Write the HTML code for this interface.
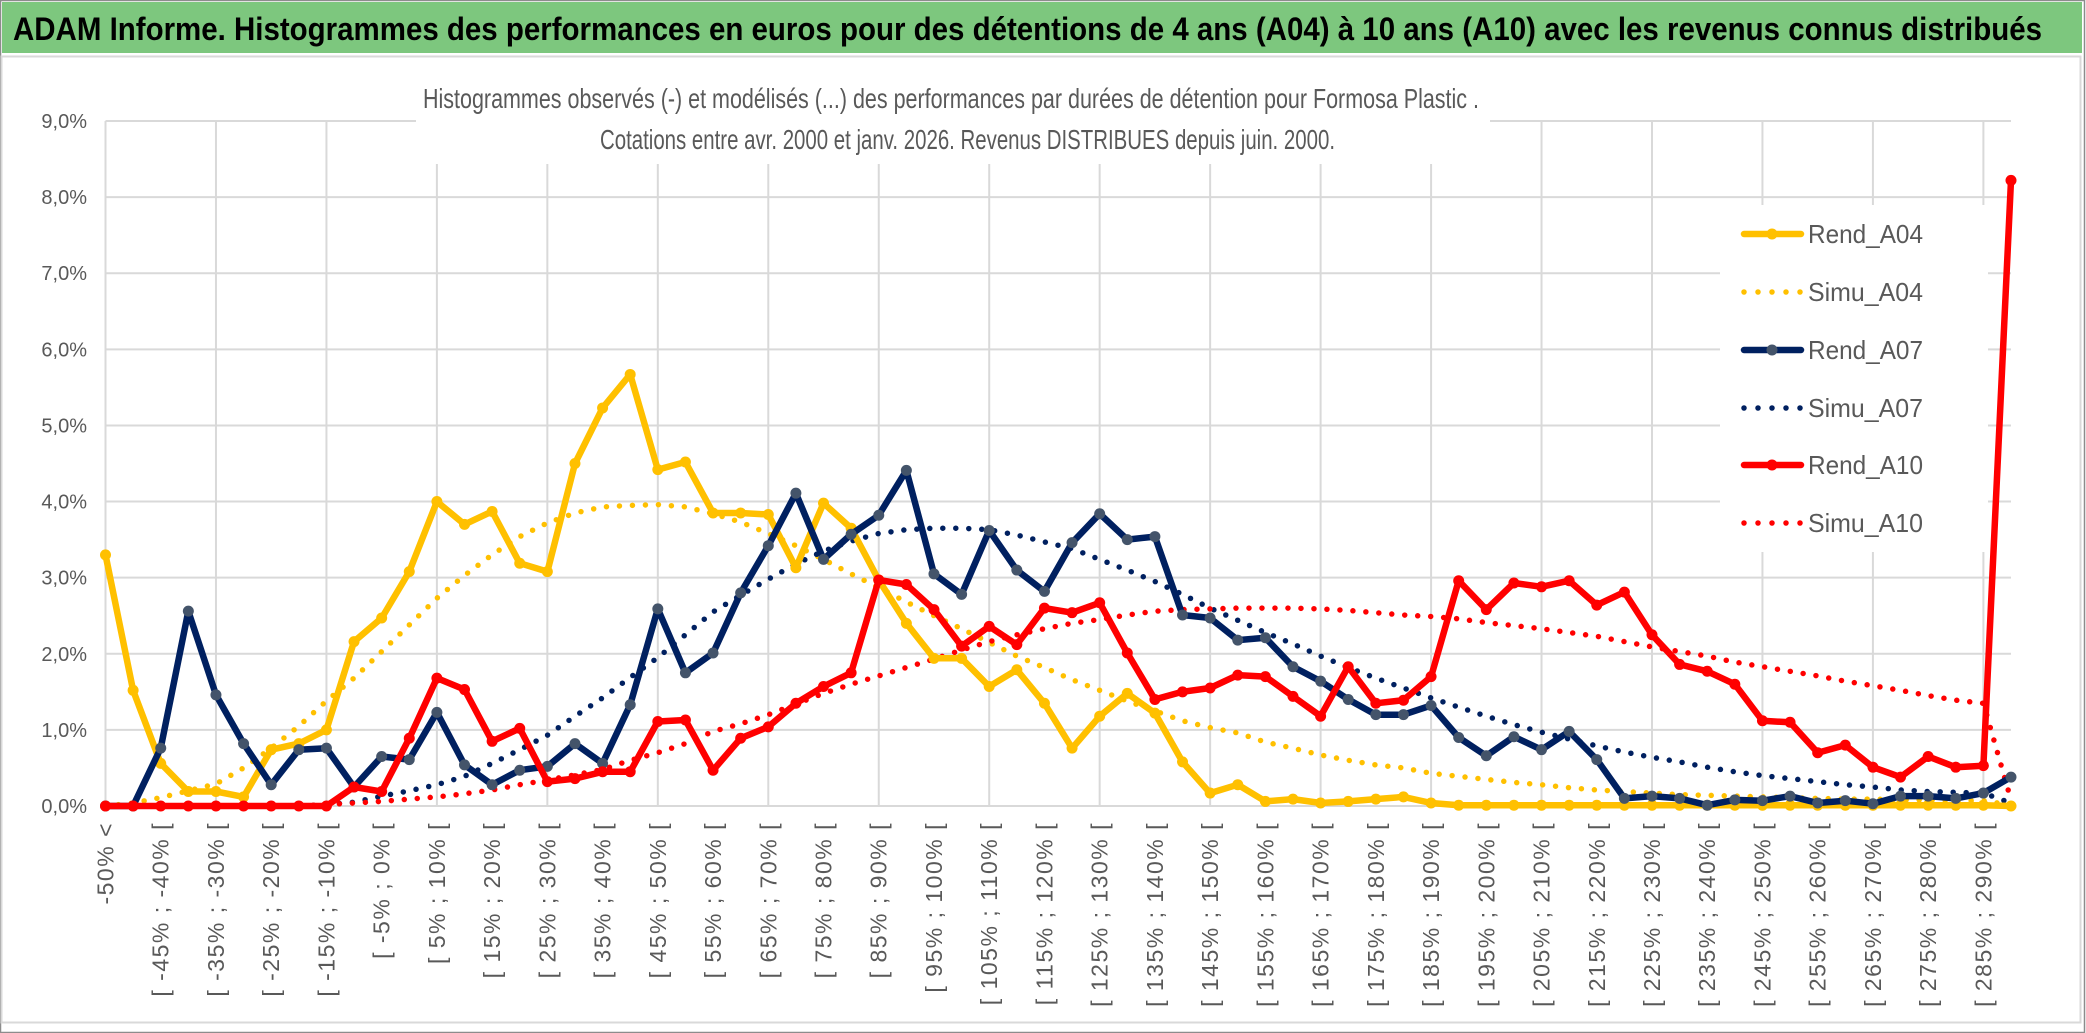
<!DOCTYPE html>
<html><head><meta charset="utf-8"><style>
html,body{margin:0;padding:0;background:#fff;}
svg{display:block;font-family:"Liberation Sans",sans-serif;}
</style></head><body>
<svg id="chart" width="2086" height="1033" viewBox="0 0 2086 1033" xmlns="http://www.w3.org/2000/svg">
<rect x="0" y="0" width="2086" height="1033" fill="#fff"/>
<rect x="0.5" y="0.5" width="2084" height="1032" fill="none" stroke="#8c8c8c" stroke-width="1.5"/>
<rect x="2" y="2" width="2080" height="51" fill="#7dc77e"/>
<text x="13" y="40" font-size="32" font-weight="bold" fill="#000" textLength="2029" lengthAdjust="spacingAndGlyphs">ADAM Informe. Histogrammes des performances en euros pour des détentions de 4 ans (A04) à 10 ans (A10) avec les revenus connus distribués</text>
<rect x="1.5" y="56.5" width="2079" height="966" fill="none" stroke="#d9d9d9" stroke-width="2"/>
<g id="grid"></g>
<rect x="416" y="60" width="1074" height="104" fill="#fff"/>
<text x="423" y="108" font-size="28" fill="#595959" textLength="1056" lengthAdjust="spacingAndGlyphs">Histogrammes observés (-) et modélisés (...) des performances par durées de détention pour Formosa Plastic .</text>
<text x="600" y="149" font-size="28" fill="#595959" textLength="735" lengthAdjust="spacingAndGlyphs">Cotations entre avr. 2000 et janv. 2026. Revenus DISTRIBUES depuis juin. 2000.</text>
<g id="yaxis"></g>
<g id="xaxis"></g>
<g id="series"></g>
<rect x="1720" y="205" width="268" height="347" fill="#fff"/>
<g id="legend"></g>
</svg>
<script>
const categories = (function(){const c=["-50% <"];for(let k=1;k<=68;k++){c.push("[ "+(-55+5*k)+"% ; "+(-50+5*k)+"% [");}c.push("> 290%");return c;})();
const yTicks = [0,1,2,3,4,5,6,7,8,9];
const rendA04 = [3.30,1.52,0.56,0.19,0.19,0.12,0.74,0.82,1.00,2.16,
2.47,3.08,4.00,3.70,3.87,3.19,3.08,4.50,5.23,5.67,
4.42,4.52,3.85,3.85,3.83,3.13,3.98,3.65,2.97,2.40,
1.94,1.94,1.57,1.79,1.35,0.76,1.18,1.48,1.22,0.58,
0.17,0.28,0.06,0.09,0.04,0.06,0.09,0.12,0.04,0.01,
0.01,0.01,0.01,0.01,0.01,0.01,0.01,0.01,0.01,0.01,
0.01,0.01,0.01,0.01,0.01,0.01,0.01,0.01,0.01,0.00];
const simuA04 = [0,0.04,0.11,0.20,0.29,0.50,0.76,1.05,1.38,1.68,
2.03,2.38,2.73,3.03,3.30,3.54,3.72,3.85,3.93,3.95,
3.96,3.93,3.84,3.73,3.58,3.42,3.24,3.05,2.87,2.68,
2.50,2.33,2.15,1.97,1.82,1.66,1.52,1.38,1.25,1.12,
1.03,0.96,0.84,0.76,0.67,0.60,0.54,0.50,0.43,0.39,
0.35,0.31,0.28,0.24,0.21,0.19,0.17,0.15,0.14,0.13,
0.12,0.11,0.10,0.09,0.09,0.08,0.08,0.07,0.07,0.01];
const rendA07 = [0,0,0.76,2.56,1.46,0.82,0.28,0.74,0.76,0.25,
0.65,0.61,1.23,0.54,0.28,0.47,0.52,0.82,0.56,1.33,
2.59,1.75,2.01,2.80,3.42,4.11,3.24,3.57,3.82,4.41,
3.05,2.78,3.62,3.10,2.82,3.46,3.84,3.50,3.54,2.51,
2.47,2.18,2.21,1.83,1.64,1.40,1.20,1.20,1.32,0.90,
0.66,0.91,0.74,0.98,0.61,0.10,0.13,0.10,0.01,0.08,
0.07,0.13,0.04,0.07,0.03,0.13,0.13,0.10,0.17,0.38];
const simuA07 = [0,0,0,0,0,0,0,0,0.02,0.05,
0.13,0.20,0.28,0.39,0.56,0.74,0.93,1.18,1.42,1.69,
1.95,2.25,2.55,2.77,2.98,3.18,3.35,3.48,3.58,3.63,
3.65,3.65,3.63,3.56,3.47,3.38,3.24,3.10,2.95,2.78,
2.60,2.44,2.28,2.13,1.97,1.82,1.68,1.55,1.42,1.30,
1.18,1.07,0.97,0.88,0.79,0.71,0.64,0.58,0.51,0.45,
0.40,0.36,0.32,0.28,0.25,0.21,0.19,0.18,0.17,0.04];
const rendA10 = [0,0,0,0,0,0,0,0,0,0.25,
0.19,0.89,1.68,1.53,0.85,1.02,0.32,0.36,0.45,0.45,
1.11,1.13,0.47,0.89,1.04,1.35,1.57,1.75,2.97,2.91,
2.58,2.10,2.36,2.12,2.60,2.54,2.67,2.01,1.40,1.50,
1.55,1.72,1.70,1.44,1.18,1.83,1.35,1.39,1.70,2.96,
2.58,2.93,2.88,2.96,2.64,2.81,2.25,1.86,1.77,1.60,
1.12,1.10,0.70,0.80,0.51,0.38,0.65,0.51,0.53,8.22];
const simuA10 = [0,0,0,0,0,0,0,0,0.02,0.04,
0.06,0.09,0.12,0.16,0.21,0.28,0.34,0.41,0.48,0.60,
0.70,0.82,0.98,1.08,1.20,1.34,1.48,1.60,1.71,1.82,
1.93,2.05,2.16,2.25,2.33,2.40,2.45,2.51,2.56,2.58,
2.59,2.60,2.60,2.60,2.59,2.57,2.54,2.51,2.49,2.46,
2.41,2.37,2.33,2.28,2.23,2.16,2.09,2.03,1.97,1.89,
1.83,1.77,1.71,1.64,1.58,1.52,1.45,1.39,1.35,0.08];

const NS="http://www.w3.org/2000/svg";
const X0=105.5, X1=2011, Y0=806, YTOP=121, YMAX=9;
const n=categories.length;
function xs(i){return X0+i*(X1-X0)/(n-1);}
function ys(v){return Y0-(v/YMAX)*(Y0-YTOP);}
function mk(tag,attrs,parent){const e=document.createElementNS(NS,tag);for(const k in attrs)e.setAttribute(k,attrs[k]);parent.appendChild(e);return e;}

const grid=document.getElementById('grid');
yTicks.forEach(t=>{
  const l=mk('line',{x1:X0,x2:X1,y1:ys(t),y2:ys(t),stroke:'#d9d9d9','stroke-width':2},grid);
  
  
});
for(let i=0;i<n;i+=4){
  const l=mk('line',{x1:xs(i),x2:xs(i),y1:YTOP,y2:Y0,stroke:'#d9d9d9','stroke-width':2},grid);
  
  
}
const yaxis=document.getElementById('yaxis');
yTicks.forEach(t=>{
  const tx=mk('text',{x:87,y:ys(t)+7,'text-anchor':'end','font-size':20,fill:'#595959'},yaxis);
  tx.textContent=t.toFixed(1).replace('.',',')+'%';
  
  
});
const xaxis=document.getElementById('xaxis');
for(let i=0;i<n-1;i+=2){
  const x=xs(i);
  const tx=mk('text',{x:x+8,y:822,'text-anchor':'end','font-size':23,'letter-spacing':'1.5',fill:'#595959',transform:'rotate(-90 '+(x+8)+' 822)'},xaxis);
  tx.textContent=categories[i];
  
  
}
const series=document.getElementById('series');
function pts(arr){return arr.map((v,i)=>xs(i).toFixed(1)+','+ys(v).toFixed(1)).join(' ');}
function dotted(arr,color,name){
  const p=mk('polyline',{points:pts(arr),fill:'none',stroke:color,'stroke-width':5.5,'stroke-linecap':'round','stroke-dasharray':'0 13'},series);
  
  
}
function solid(arr,color,mcolor,name){
  const g=mk('g',{},series);
  
  
  mk('polyline',{points:pts(arr),fill:'none',stroke:color,'stroke-width':6.5,'stroke-linejoin':'round'},g);
  arr.forEach((v,i)=>{
    const c=mk('circle',{cx:xs(i),cy:ys(v),r:5.5,fill:mcolor},g);
    
    
  });
}
dotted(simuA04,'#ffc000','simu-a04-line');
dotted(simuA07,'#002060','simu-a07-line');
dotted(simuA10,'#ff0000','simu-a10-line');
solid(rendA04,'#ffc000','#ffc000','rend-a04-line');
solid(rendA07,'#002060','#44546a','rend-a07-line');
solid(rendA10,'#ff0000','#ff0000','rend-a10-line');

const legend=document.getElementById('legend');
const legItems=[["Rend_A04","#ffc000","#ffc000",false],["Simu_A04","#ffc000",null,true],["Rend_A07","#002060","#44546a",false],["Simu_A07","#002060",null,true],["Rend_A10","#ff0000","#ff0000",false],["Simu_A10","#ff0000",null,true]];
const legY=[234,292,350,408,465,523];
legItems.forEach((it,k)=>{
  const g=mk('g',{},legend);
  
  
  const y=legY[k];
  if(it[3]){
    mk('line',{x1:1744,x2:1801,y1:y,y2:y,stroke:it[1],'stroke-width':5.5,'stroke-linecap':'round','stroke-dasharray':'0 14'},g);
  }else{
    mk('line',{x1:1744,x2:1801,y1:y,y2:y,stroke:it[1],'stroke-width':6.5,'stroke-linecap':'round'},g);
    mk('circle',{cx:1772,cy:y,r:5.5,fill:it[2]},g);
  }
  const t=mk('text',{x:1808,y:y+9,'font-size':26,fill:'#595959',textLength:115,lengthAdjust:'spacingAndGlyphs'},g);
  t.textContent=it[0];
});
</script>
</body></html>
